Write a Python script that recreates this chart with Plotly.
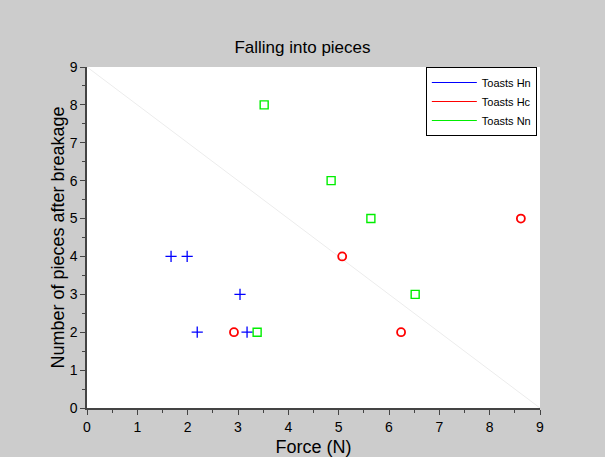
import plotly.graph_objects as go

hn_x = [1.67, 1.99, 2.19, 3.04, 3.18]
hn_y = [4, 4, 2, 3, 2]
hc_x = [2.92, 5.07, 6.24, 8.62]
hc_y = [2, 4, 2, 5]
nn_x = [3.52, 4.85, 5.64, 6.52, 3.38]
nn_y = [8, 6, 5, 3, 2]
diag_x = [0, 9]
diag_y = [9, 0]

fig = go.Figure()
fig.add_trace(go.Scatter(x=diag_x, y=diag_y, mode="lines",
                         line=dict(color="#ececec", width=1), showlegend=False, hoverinfo="skip"))
fig.add_trace(go.Scatter(x=hn_x, y=hn_y, mode="markers", showlegend=False,
                         marker=dict(symbol="cross-thin", size=8, line=dict(color="#0000ff", width=1.3))))
fig.add_trace(go.Scatter(x=hc_x, y=hc_y, mode="markers", showlegend=False,
                         marker=dict(symbol="circle-open", size=8, color="#ff0000", line=dict(color="#ff0000", width=1.8))))
fig.add_trace(go.Scatter(x=nn_x, y=nn_y, mode="markers", showlegend=False,
                         marker=dict(symbol="square-open", size=8, color="#00ee00", line=dict(color="#00ee00", width=1.4))))
for name, col in [("Toasts Hn", "#0000ff"), ("Toasts Hc", "#ff0000"), ("Toasts Nn", "#00ee00")]:
    fig.add_trace(go.Scatter(x=[None], y=[None], mode="lines", name=name, line=dict(color=col, width=1)))

axis_common = dict(range=[0, 9], dtick=1, showgrid=False, zeroline=False, showline=True, automargin=False,
                   linecolor="#444444", linewidth=1.5, ticks="outside", ticklen=5, tickcolor="#444444",
                   tickfont=dict(family="Liberation Sans, Arial", size=14, color="#000000"),
                   minor=dict(ticks="outside", dtick=0.5, ticklen=3, tickcolor="#444444"),
                   mirror=False)

fig.update_layout(
    width=605, height=457,
    margin=dict(l=87, r=65, t=67, b=49),
    paper_bgcolor="#cccccc", plot_bgcolor="#ffffff",
    title=dict(text="Falling into pieces", x=0.5, xref="container", xanchor="center", y=1 - 47/457, yanchor="middle",
               font=dict(family="Liberation Sans, Arial", size=17, color="#000000"), automargin=False),
    xaxis=dict(axis_common, title=dict(text="Force (N)", font=dict(family="Liberation Sans, Arial", size=18, color="#000000"), standoff=7)),
    yaxis=dict(axis_common, title=dict(text="Number of pieces after breakage", font=dict(family="Liberation Sans, Arial", size=18, color="#000000"), standoff=0)),
    legend=dict(x=0.993, y=1.0, xanchor="right", yanchor="top", bgcolor="#ffffff",
                bordercolor="#000000", borderwidth=1, font=dict(family="Liberation Sans, Arial", size=11, color="#000000"),
                tracegroupgap=0, itemwidth=45),
    showlegend=True,
)
fig.write_html("out.html", config={"displayModeBar": False},
               post_script="document.body.style.margin='0';document.body.style.overflow='hidden';")
